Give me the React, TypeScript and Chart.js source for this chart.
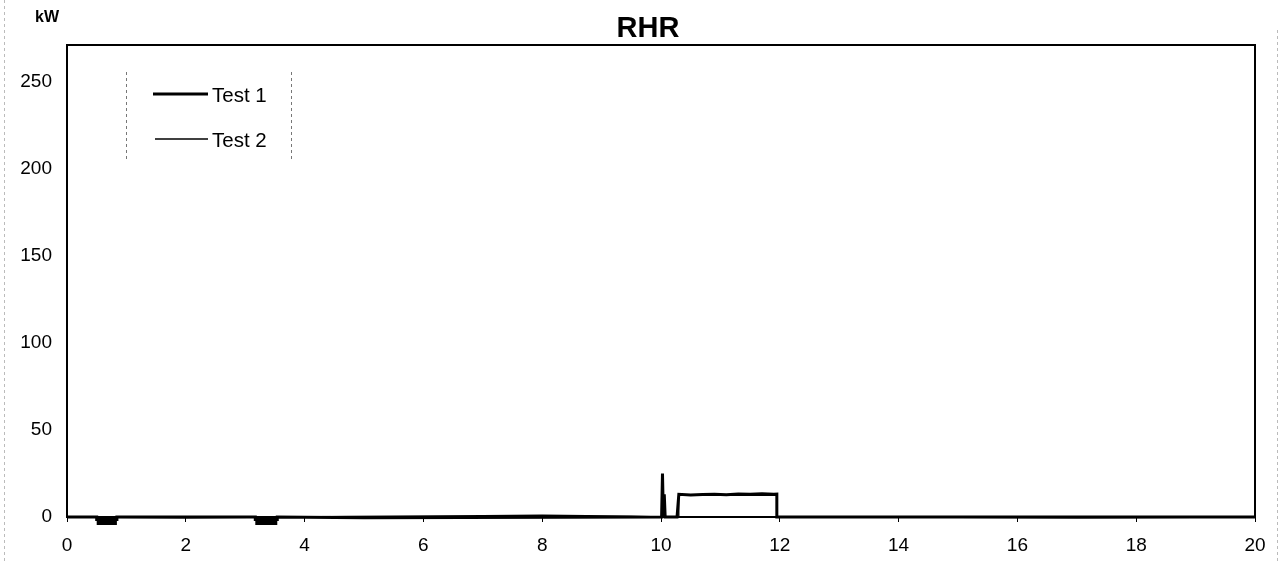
import React, { useEffect, useRef } from "react";
import { Chart, registerables } from "chart.js";

Chart.register(...registerables);

const TITLE = "RHR";
const UNIT = "kW";
const SERIES_LABELS = ["Test 1", "Test 2"];
const Y_TICKS = [0, 50, 100, 150, 200, 250];
const X_TICKS = [0, 2, 4, 6, 8, 10, 12, 14, 16, 18, 20];

// Test 1 (thick line): time (x) and power in kW (y)
const TEST1_X = [0, 0.5, 0.5, 0.84, 0.84, 3.17, 3.17, 3.54, 3.54, 5.0, 10.01, 10.025, 10.04, 10.055, 10.07, 10.27, 10.3, 10.5, 10.7, 10.9, 11.1, 11.3, 11.5, 11.7, 11.9, 11.95, 11.95, 20];
const TEST1_Y = [0, 0, -2.3, -2.3, 0, 0, -2.3, -2.3, 0, -0.5, 0, 25, 0, 13, 0, 0, 13, 12.6, 12.9, 13.1, 12.8, 13.2, 13.0, 13.4, 13.1, 13.2, 0, 0];

// Test 2 (thin line)
const TEST2_X = [0, 2.0, 4.7, 7.0, 8.0, 9.5, 10.0, 10.3, 10.3, 11.95, 11.95, 14, 17, 20];
const TEST2_Y = [0, -0.5, 0.3, 0.8, 1, 0.5, 0, 0, 12.5, 12.5, 0, 0, -0.5, 0];

const toPoints = (xs: number[], ys: number[]) => xs.map((x, i) => ({ x, y: ys[i] }));

const decorPlugin = {
  id: "decor",
  afterDraw(chart: any) {
    const { ctx, chartArea } = chart;
    ctx.save();
    ctx.strokeStyle = "#000";
    ctx.lineWidth = 2;
    ctx.strokeRect(chartArea.left, chartArea.top, chartArea.right - chartArea.left, chartArea.bottom - chartArea.top);
    ctx.fillStyle = "#000";
    ctx.font = "bold 29px 'Liberation Sans', Arial, sans-serif";
    ctx.textAlign = "center";
    ctx.textBaseline = "alphabetic";
    ctx.fillText(TITLE, 648, 37);
    ctx.font = "bold 16px 'Liberation Sans', Arial, sans-serif";
    ctx.textAlign = "left";
    ctx.fillText(UNIT, 35, 22);
    ctx.strokeStyle = "#777";
    ctx.lineWidth = 1;
    ctx.setLineDash([3, 3]);
    ctx.beginPath();
    ctx.moveTo(126.5, 72);
    ctx.lineTo(126.5, 160);
    ctx.moveTo(291.5, 72);
    ctx.lineTo(291.5, 160);
    ctx.stroke();
    ctx.strokeStyle = "#bbb";
    ctx.beginPath();
    ctx.moveTo(4.5, 0);
    ctx.lineTo(4.5, 561);
    ctx.moveTo(1277.5, 30);
    ctx.lineTo(1277.5, 561);
    ctx.stroke();
    ctx.setLineDash([]);
    const ds = chart.data.datasets;
    const rows = [
      { y: 94, x0: 153 },
      { y: 139, x0: 155 },
    ];
    ds.forEach((d: any, i: number) => {
      const r = rows[i];
      ctx.strokeStyle = d.borderColor;
      ctx.lineWidth = d.borderWidth;
      ctx.beginPath();
      ctx.moveTo(r.x0, r.y);
      ctx.lineTo(208, r.y);
      ctx.stroke();
      ctx.fillStyle = "#000";
      ctx.font = "20.5px 'Liberation Sans', Arial, sans-serif";
      ctx.textAlign = "left";
      ctx.textBaseline = "middle";
      ctx.fillText(d.label, 212, r.y + 2);
    });
    ctx.restore();
  },
};

export default function App() {
  const ref = useRef<HTMLCanvasElement | null>(null);
  useEffect(() => {
    if (!ref.current) return;
    Chart.defaults.font.family = "'Liberation Sans', Arial, sans-serif";
    const chart = new Chart(ref.current, {
      type: "line",
      data: {
        datasets: [
          {
            label: SERIES_LABELS[0],
            data: toPoints(TEST1_X, TEST1_Y),
            borderColor: "#000",
            borderWidth: 3,
            pointRadius: 0,
            tension: 0,
            clip: false as any,
            segment: {
              borderWidth: (c: any) => (c.p0.parsed.y < 0 && c.p1.parsed.y < 0 ? 8 : 3),
            },
          },
          {
            label: SERIES_LABELS[1],
            data: toPoints(TEST2_X, TEST2_Y),
            borderColor: "#000",
            borderWidth: 1.3,
            pointRadius: 0,
            tension: 0,
            clip: false as any,
          },
        ],
      },
      options: {
        animation: false,
        responsive: false,
        maintainAspectRatio: false,
        layout: { padding: { left: 0, right: 26, top: 45, bottom: 0 } },
        plugins: { legend: { display: false }, title: { display: false }, tooltip: { enabled: false } },
        scales: {
          x: {
            type: "linear",
            min: 0,
            max: 20,
            afterBuildTicks: (s: any) => {
              s.ticks = X_TICKS.map((v) => ({ value: v }));
            },
            afterFit: (s: any) => {
              s.height = 44;
            },
            grid: { drawOnChartArea: false, drawTicks: true, tickLength: 5, color: "#000", lineWidth: 1 },
            border: { display: true, color: "#000", width: 2 },
            ticks: { color: "#000", font: { size: 19 }, padding: 12, maxRotation: 0 },
          },
          y: {
            type: "linear",
            min: 0,
            max: 271,
            afterBuildTicks: (s: any) => {
              s.ticks = Y_TICKS.map((v) => ({ value: v }));
            },
            afterFit: (s: any) => {
              s.width = 67;
            },
            grid: { drawOnChartArea: false, drawTicks: false },
            border: { display: true, color: "#000", width: 2 },
            ticks: { color: "#000", font: { size: 19 }, padding: 15 },
          },
        },
      },
      plugins: [decorPlugin],
    });
    return () => chart.destroy();
  }, []);
  return (
    <div style={{ position: "fixed", left: 0, top: 0, width: 1281, height: 561, background: "#fff" }}>
      <canvas ref={ref} width={1281} height={561} style={{ width: 1281, height: 561, display: "block" }} />
    </div>
  );
}
